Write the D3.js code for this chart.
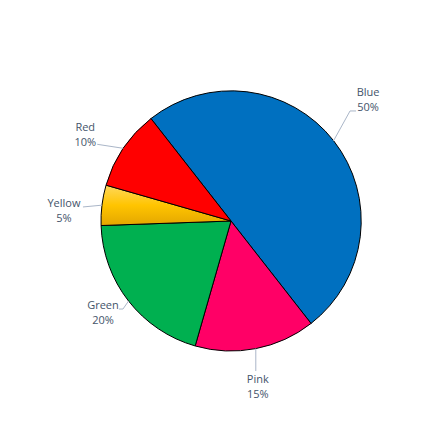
<!DOCTYPE html>
<html>
<head>
<meta charset="utf-8">
<script src="https://cdn.jsdelivr.net/npm/d3@7"></script>
<style>
  body { margin: 0; background: #fff; }
  text { font-family: "Open Sans", "Noto Sans", sans-serif; font-size: 11px; fill: #44546a; }
</style>
</head>
<body>
<svg id="chart"></svg>
<script>
// data
var categories = ["Blue", "Pink", "Green", "Yellow", "Red"];
var values = [50, 15, 20, 5, 10];
var sliceColors = ["#0070C0", "#FF0066", "#00B050", "url(#yellowGrad)", "#FF0000"];

var screen = {width: 435, height: 437};
var center = {x: 231, y: 221};
var radius = 130;

// label layout, offsets from the slice's outer mid point
var labelLayout = {
    Blue:   {path: [[16.6, -30], [22.6, -30]], tx: 34.6, ty: -45},
    Pink:   {path: [[0, 22.4]], tx: 2, ty: 34.4},
    Green:  {path: [[-5.6, 8], [-9.6, 8]], tx: -25.6, ty: 8},
    Yellow: {path: [[-19, 1.8]], tx: -38, ty: 1.8},
    Red:    {path: [[-26, -4]], tx: -38, ty: -17}
};

var svg = d3.select("#chart")
    .attr("width", screen.width)
    .attr("height", screen.height);

var grad = svg.append("defs")
    .append("linearGradient")
    .attr("id", "yellowGrad")
    .attr("x1", 0).attr("y1", 0)
    .attr("x2", 0).attr("y2", 1);
grad.append("stop").attr("offset", "0%").attr("stop-color", "#FFD85C");
grad.append("stop").attr("offset", "50%").attr("stop-color", "#FFC400");
grad.append("stop").attr("offset", "100%").attr("stop-color", "#E3A600");

var data = categories.map(function(c, i) { return {name: c, value: values[i], color: sliceColors[i]}; });

var startAngle = -38 * Math.PI / 180;
var pie = d3.pie()
    .sort(null)
    .value(function(d) { return d.value; })
    .startAngle(startAngle)
    .endAngle(startAngle + 2 * Math.PI);

var arc = d3.arc().innerRadius(0).outerRadius(radius);

var arcs = pie(data);

var target = svg.append("g")
    .attr("transform", "translate(" + center.x + "," + center.y + ")");

target.selectAll("path.slice")
    .data(arcs)
    .enter()
    .append("path")
    .attr("class", "slice")
    .attr("d", arc)
    .attr("fill", function(d) { return d.data.color; })
    .attr("stroke", "#000")
    .attr("stroke-width", 1)
    .attr("stroke-linejoin", "round");

var edgePoint = function(d) {
    var a = (d.startAngle + d.endAngle) / 2;
    return [radius * Math.sin(a), -radius * Math.cos(a)];
};

var labels = target.append("g").attr("class", "labels");

arcs.forEach(function(d) {
    var p0 = edgePoint(d);
    var lay = labelLayout[d.data.name];
    var pts = [p0].concat(lay.path.map(function(p) { return [p0[0] + p[0], p0[1] + p[1]]; }));

    labels.append("path")
        .attr("d", d3.line()(pts))
        .attr("fill", "none")
        .attr("stroke", "#aab6c8")
        .attr("stroke-width", 1);

    var total = d3.sum(values);
    var t = labels.append("text")
        .attr("text-anchor", "middle")
        .attr("x", p0[0] + lay.tx)
        .attr("y", p0[1] + lay.ty);
    t.append("tspan")
        .attr("x", p0[0] + lay.tx)
        .text(d.data.name);
    t.append("tspan")
        .attr("x", p0[0] + lay.tx)
        .attr("dy", 15)
        .text(Math.round(d.data.value / total * 100) + "%");
});
</script>
</body>
</html>
